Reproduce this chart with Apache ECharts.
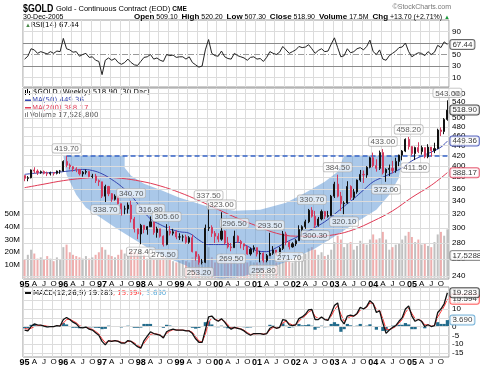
<!DOCTYPE html>
<html><head><meta charset="utf-8">
<script src="https://cdn.jsdelivr.net/npm/echarts@6/dist/echarts.min.js"></script>
<style>html,body{margin:0;padding:0;background:#fff}#c{width:480px;height:367px}</style>
</head><body><div id="c"></div>
<script>
// ---------- categories (monthly, Jan 1995 .. Dec 2005) ----------
const months = [];
for (let y = 1995; y <= 2005; y++) for (let m = 1; m <= 12; m++) months.push(y + '-' + String(m).padStart(2, '0'));

// ---------- price (monthly close / high / low, continuous contract) ----------
const firstOpen = 383;
const closes = [
 378,379,393,391,388,390,387,386,388,387,391,391,
 409,402,399,395,394,386,389,390,381,382,374,372,
 348,364,352,343,348,336,328,328,334,313,299,292,
 304,298,302,309,294,299,289,278,296,293,295,288,
 288,288,281,287,269,263,256,256,300,301,293,289,
 285,296,280,275,274,289,282,279,276,266,272,274,
 266,267,258,264,267,271,266,273,292,281,275,279,
 283,298,302,309,326,317,304,313,324,317,318,348,
 368,348,336,337,364,346,355,375,385,384,398,416,
 401,396,426,388,394,396,392,409,421,429,453,438,
 424,436,428,436,418,437,430,434,473,470,497,518.9];
const highs = [
 383,382,394,398,394,392,392,390,390,389,392,393,
 411,419.7,405,400,398,393,391,394,391,386,386,376,
 370,367,365,353,351,349,336,333,338,340.7,316,299,
 306,303,303,316.8,309,302,299,290,305.6,303,299,297,
 293,291,291,289,291,269,266,260,305,337.5,304,296,
 293,323,297,288,280,296.5,290,284,279,276,274,277,
 273,270,268,266,293.5,276,271,275,296,295,282,281,
 285,304,304,312,328,330.7,325,316,327,325,325,350,
 372,384.5,355,340,373,366,360,376,393,392,400,418,
 426,413,430,433,396,403,410,416,422,431,455,458.2,
 439,438,447,440,433,443,434,446,476,479,500,543];
const lows = [
 373,373,378,387,384,386,385,382,383,383,385,386,
 390,398,394,390,389,383,381,385,380,378,370,365,
 345,338.7,348,339,341,335,318,320,321,308,294,285,
 278.4,293,291,302,291,287,287,275.5,277,290,290,285,
 284,282,279,279,268,258,253.2,253.5,255,296,288,280,
 281,283,278,273,269.5,274,280,273,271,265,264,268,
 263,256,255.8,256,264,265,264,264,271,277,271.7,274,
 276,283,288,299,307,315,300.3,302,311,313,315,317,
 345,346,325,320.1,336,342,342,352,372,370,379,396,
 398,390,393,385,372,382,387,388,400,411,427,432,
 420,411.5,425,422,415,415,418,425,433,460,464,494];

// ---------- volume (millions, typical weekly level per month) ----------
const volumes = [
 14,18,22,19,15,16,14,17,15,13,16,14,
 24,26,20,18,17,16,15,17,15,16,18,20,
 24,22,18,17,16,18,22,19,17,21,20,19,
 22,18,15,17,14,15,14,16,18,15,13,12,
 13,14,13,12,16,17,18,14,26,24,16,12,
 14,19,15,12,13,14,11,12,11,12,13,12,
 12,13,14,13,18,14,12,12,17,15,13,12,
 14,20,17,19,23,24,22,18,20,17,18,22,
 28,33,30,24,27,28,22,25,29,27,26,30,
 34,30,31,36,30,22,24,26,27,30,33,36,
 32,28,30,26,27,25,24,28,34,36,33,38];
const lastVolume = 17.5288;

// ---------- moving averages [monthIndex, value] ----------
const ma50Pts = [[0,385],[3,387],[6,388],[9,388],[12,390],[15,392],[18,394],[21,392],[24,386],[27,376],[30,364],[33,349],[36,330],[39,313],[42,305],[45,299],[48,295],[51,293],[54,284],[57,278],[60,278],[63,278],[66,281],[69,276],[72,270],[75,269],[78,274],[81,281],[84,287],[87,294],[90,301],[93,309],[96,320],[99,332],[102,344],[105,358],[108,372],[111,380],[114,388],[117,397],[120,410],[123,419],[126,427],[129,437],[131,449.36]];
const ma200Pts = [[0,362],[6,368],[12,374],[18,378],[24,380],[30,378],[36,373],[42,365],[48,354],[54,341],[60,327],[66,314],[72,303],[78,293],[84,289],[90,289],[96,291],[102,298],[108,310],[114,325],[120,346],[126,366],[131,388.17]];

// ---------- RSI(14) ----------
const rsi = [
 42,47,60,58,52,55,53,51,55,52,56,55,
 78,60,58,54,55,47,50,52,45,46,40,38,
 15,40,44,40,43,36,33,36,42,36,32,31,
 38,45,46,50,42,44,40,38,50,48,49,45,
 46,46,42,46,36,32,28,30,58,76,52,48,
 47,56,46,43,42,52,48,46,44,40,45,46,
 42,43,38,45,55,52,50,54,64,58,52,55,
 58,64,62,63,67,60,52,57,60,55,56,68,
 79,62,46,48,60,53,55,60,62,58,64,75,
 55,50,58,42,40,48,52,56,62,63,70,55,
 46,50,53,52,48,55,50,54,66,62,72,67.44];

// ---------- MACD(12,26,9) ----------
const macdLine = [
 -2,-2.5,0,1.5,1,0.8,0.2,-0.2,0,0,0.5,0.3,
 4,5.2,4,2.5,1.5,-0.5,-0.8,-0.3,-1.5,-2,-3.5,-5,
 -8.5,-10.5,-8,-8.5,-8,-8.5,-9.5,-9.5,-8,-8.5,-10,-11.5,
 -12.4,-8,-5.5,-3,-4,-4.5,-5,-6.5,-3,-2,-1.5,-2,
 -2,-2,-2.5,-2.5,-4,-7,-9,-9,-2,5.5,6,4,
 3,4.5,2.5,0,-1.5,-0.5,-1,-1.5,-2.5,-4,-5,-4,
 -4,-4,-4.5,-4,-1,0,-1,-0.5,4,3.5,1,0.5,
 1,4.5,5.5,7,9.5,9.8,4,4,5.5,4,3.5,7.5,
 12,13.5,4,1.5,6,6.5,6,7.5,11,10,11.5,14.8,
 13,8,9,2,-3.9,-2,-0.5,0.5,3,5,10,11.7,
 6,3,4,3,0,1,0,0.5,8,10,13,19.283];
const macdSignal = [
 -1,-1.5,-1,0,0.5,0.7,0.5,0.2,0,0,0.2,0.3,
 2,4,4.2,3.2,2.2,0.5,-0.2,-0.3,-1,-1.6,-2.8,-4.2,
 -7,-9.2,-8.5,-8.3,-8.1,-8.3,-9,-9.3,-8.5,-8.4,-9.3,-10.8,
 -11.8,-9.5,-7,-4.5,-4,-4.3,-4.8,-5.8,-4,-2.6,-1.8,-1.9,
 -2,-2,-2.3,-2.4,-3.3,-5.8,-8.2,-8.8,-4.5,2.5,4.8,4.3,
 3.4,4,3,1,-0.8,-0.7,-0.8,-1.3,-2.1,-3.4,-4.5,-4.2,
 -4.1,-4,-4.3,-4.1,-2,-0.5,-0.8,-0.6,2.2,3,1.8,0.9,
 0.9,3,4.8,6.2,8.3,9.3,5.8,4.6,5,4.4,3.8,6,
 9.5,12,7,3,4.5,5.8,6,7,9.5,10,11,13.5,
 13.2,9.8,9.2,4.5,-1.5,-1.8,-1,0,2,4,8,10.5,
 7.5,4.5,4.2,3.3,1,1,0.2,0.4,5.5,8.5,11.5,15.594];
const macdHist = macdLine.map((v, i) => +(v - macdSignal[i]).toFixed(3));

// ---------- tick labels ----------
const priceTicks = [240,260,280,300,320,340,360,380,400,420,440,460,480,500,520,540,560];
const rsiTicks = [10,30,50,70,90];
const macdTicks = [-15,-10,-5,0,5,10,15,20];
const volTicks = [10,20,30,40,50];

// ---------- annotations [monthIndex, price, side] ----------
const notes = [
 [13,419.7,'top'],[25,338.7,'bottom'],[33,340.7,'top'],[36,278.4,'bottom'],[39,316.8,'top'],
 [43,275.5,'bottom'],[44,305.6,'top'],[54,253.2,'bottom'],[57,337.5,'top'],[61,323.0,'top'],
 [64,269.5,'bottom'],[65,296.5,'top'],[74,255.8,'bottom'],[76,293.5,'top'],[82,271.7,'bottom'],
 [89,330.7,'top'],[90,300.3,'bottom'],[97,384.5,'top'],[99,320.1,'bottom'],[111,433.0,'top'],
 [112,372.0,'bottom'],[119,458.2,'top'],[121,411.5,'bottom'],[131,543.0,'top']];
const resistance = 419.7;

// ---------- rounded-bottom ("cup") annotation outline [monthIndex, price] ----------
const cupOuter = [[12.2,419.7],[13.4,384.4],[15.6,350.4],[19.3,330],[23.4,316.5],[28.6,298],[33.6,284.5],[38.9,271.6],[44.1,261.7],[49.7,252.2],[54.4,241],[60.5,237.5],[66.7,239],[74.5,247.6],[82.2,258.1],[90,272.9],[97.7,293.9],[103.3,309.2],[108.6,326.9],[113.2,350.4],[116,379.2],[117.3,419.7]];
const cupInner = [[99.3,419.7],[96.8,389.9],[93.1,372.2],[86.9,353.7],[80.7,337.7],[72.9,326.9],[65.2,325.4],[55.9,333],[48.2,345.6],[42,358.7],[37.3,368.8],[33.3,382.7],[31.1,397.2],[30.5,419.7]];

// ---------- build ----------
const n = closes.length;
const opens = closes.map((c, i) => i === 0 ? firstOpen : closes[i - 1]);
const candles = closes.map((c, i) => [opens[i], c, Math.min(lows[i], opens[i], c), Math.max(highs[i], opens[i], c)]);
const UP = '#111', DOWN = '#d23a5e';
const volData = volumes.map((v, i) => ({
  value: v,
  itemStyle: { color: (i === 0 ? closes[i] >= firstOpen : closes[i] >= closes[i - 1]) ? 'rgba(150,150,150,0.6)' : 'rgba(226,120,120,0.6)' }
}));
const last = months[n - 1];

const FONT = '"Liberation Sans", Arial, sans-serif';
const LEG = '"DejaVu Sans", Verdana, sans-serif';

function xFmt(v) {
  const p = v.split('-');
  if (p[1] === '01') return '{y|' + p[0].slice(2) + '}';
  return { '04': 'A', '07': 'J', '10': 'O' }[p[1]] || '';
}
function xCfg(gi, labels) {
  return {
    type: 'category', gridIndex: gi, data: months, boundaryGap: true,
    axisLine: { show: false }, axisTick: { show: false },
    splitLine: { show: true, interval: (i) => i % 3 === 0, lineStyle: { color: '#dcdcdc', width: 1 } },
    axisLabel: {
      show: labels, interval: (i) => i % 3 === 0, formatter: xFmt, margin: 1,
      fontSize: 8, color: '#000', fontFamily: FONT,
      rich: { y: { fontSize: 9, fontWeight: 'bold', color: '#000', fontFamily: FONT } }
    }
  };
}
function gridLines(vals, color) {
  return { silent: true, symbol: ['none', 'none'], label: { show: false }, animation: false,
    lineStyle: { color: color, width: 1, type: 'solid' }, data: vals.map(v => ({ yAxis: v })) };
}
function boxLabel(xi, yi, value, text, border, z) {
  return {
    type: 'scatter', xAxisIndex: xi, yAxisIndex: yi, symbolSize: 0, z: z || 20, silent: true,
    data: [[last, value]],
    label: { show: true, position: 'right', distance: 3, formatter: text, fontSize: 8, color: '#000',
      fontFamily: FONT, backgroundColor: '#fff', borderColor: border, borderWidth: 1, borderRadius: 2, padding: [1, 2, 0, 2] }
  };
}

const chart = echarts.init(document.getElementById('c'));
const option = {
  animation: false,
  backgroundColor: '#fff',
  textStyle: { fontFamily: FONT },
  grid: [
    { left: 23, right: 31, top: 20, height: 67, show: true, borderColor: '#9a9a9a', borderWidth: 1 },
    { left: 23, right: 31, top: 88, height: 191, show: true, borderColor: '#9a9a9a', borderWidth: 1 },
    { left: 23, right: 31, top: 287, height: 72, show: true, borderColor: '#9a9a9a', borderWidth: 1 }
  ],
  xAxis: [xCfg(0, false), xCfg(1, true), xCfg(2, true)],
  yAxis: [
    { type: 'value', gridIndex: 0, position: 'right', min: -6.5, max: 110,
      axisLine: { show: false }, axisTick: { show: false }, splitLine: { show: false },
      axisLabel: { customValues: rsiTicks, fontSize: 8, color: '#000', margin: 3 } },
    { type: 'log', gridIndex: 1, position: 'right', min: 236.9, max: 575,
      axisLine: { show: false }, axisTick: { show: false, customValues: priceTicks }, splitLine: { show: false },
      axisLabel: { customValues: priceTicks, fontSize: 8, color: '#000', margin: 3, formatter: v => String(Math.round(v)) } },
    { type: 'value', gridIndex: 1, position: 'left', min: -1, max: 149,
      axisLine: { show: false }, axisTick: { show: false }, splitLine: { show: false },
      axisLabel: { customValues: volTicks, fontSize: 8, color: '#000', margin: 3, formatter: v => v + 'M' } },
    { type: 'value', gridIndex: 2, position: 'right', min: -17.4, max: 22.6,
      axisLine: { show: false }, axisTick: { show: false }, splitLine: { show: false },
      axisLabel: { customValues: macdTicks, fontSize: 8, color: '#000', margin: 3 } }
  ],
  series: [
    // RSI
    { type: 'line', xAxisIndex: 0, yAxisIndex: 0, data: rsi, symbol: 'none', z: 5,
      lineStyle: { color: '#222', width: 1 },
      markLine: { silent: true, symbol: ['none', 'none'], label: { show: false },
        data: [
          { yAxis: 10, lineStyle: { color: '#dcdcdc', width: 1, type: 'solid' } },
          { yAxis: 90, lineStyle: { color: '#dcdcdc', width: 1, type: 'solid' } },
          { yAxis: 30, lineStyle: { color: '#8a8a8a', width: 1, type: 'solid' } },
          { yAxis: 70, lineStyle: { color: '#8a8a8a', width: 1, type: 'solid' } },
          { yAxis: 50, lineStyle: { color: '#999', width: 1, type: [6, 2, 1, 2] } }
        ] } },
    boxLabel(0, 0, rsi[n - 1], '67.44', '#444'),
    // price grid lines
    { type: 'line', xAxisIndex: 1, yAxisIndex: 1, data: months.map(() => null), z: 1, symbol: 'none',
      markLine: gridLines(priceTicks, '#dcdcdc') },
    // volume
    { type: 'bar', xAxisIndex: 1, yAxisIndex: 2, data: volData, barWidth: 2, z: 2 },
    // cup annotation
    { type: 'custom', xAxisIndex: 1, yAxisIndex: 1, z: 3, silent: true, data: [[0, 300]],
      renderItem: function (params, api) {
        const pts = cupOuter.concat(cupInner).map(p => api.coord([p[0], p[1]]));
        return { type: 'polygon', shape: { points: pts }, style: { fill: 'rgba(86,145,212,0.5)', stroke: null } };
      } },
    // moving averages
    { type: 'line', xAxisIndex: 1, yAxisIndex: 1, data: ma200Pts, symbol: 'none', smooth: 0.4, z: 4,
      lineStyle: { color: '#e03a55', width: 1 } },
    { type: 'line', xAxisIndex: 1, yAxisIndex: 1, data: ma50Pts, symbol: 'none', smooth: 0.4, z: 4,
      lineStyle: { color: '#3344b0', width: 1 } },
    // price bars
    { type: 'candlestick', xAxisIndex: 1, yAxisIndex: 1, data: candles, barWidth: 1.6, z: 6,
      itemStyle: { color: UP, color0: DOWN, borderColor: UP, borderColor0: DOWN, borderWidth: 1 },
      markLine: { silent: true, symbol: ['none', 'none'], label: { show: false },
        lineStyle: { color: '#3563c8', width: 1.5, type: [5, 3] },
        data: [[{ coord: [months[13], resistance] }, { coord: [last, resistance] }]] } },
    // annotations
    { type: 'scatter', xAxisIndex: 1, yAxisIndex: 1, symbolSize: 0, z: 8, silent: true,
      data: notes.map(a => ({ value: [months[a[0]], a[1]],
        label: { position: a[2], formatter: a[1].toFixed(2) } })),
      label: { show: true, distance: 3, fontSize: 8, color: '#333', fontFamily: FONT,
        backgroundColor: 'rgba(255,255,255,0.75)', borderColor: '#a8a8a8', borderWidth: 0.6,
        borderRadius: 2, padding: [1, 2, 0, 2] } },
    boxLabel(1, 1, closes[n - 1], '518.90', '#222'),
    boxLabel(1, 1, ma50Pts[ma50Pts.length - 1][1], '449.36', '#3344b0'),
    boxLabel(1, 1, ma200Pts[ma200Pts.length - 1][1], '388.17', '#e03a55'),
    boxLabel(1, 2, lastVolume, '17.5288', '#777'),
    // MACD
    { type: 'line', xAxisIndex: 2, yAxisIndex: 3, data: months.map(() => null), z: 1, symbol: 'none',
      markLine: gridLines(macdTicks, '#dcdcdc') },
    { type: 'bar', xAxisIndex: 2, yAxisIndex: 3, data: macdHist, barWidth: '100%', z: 3,
      itemStyle: { color: '#236c8c' } },
    { type: 'line', xAxisIndex: 2, yAxisIndex: 3, data: macdSignal, symbol: 'none', z: 4,
      lineStyle: { color: '#ff3b3b', width: 1 } },
    { type: 'line', xAxisIndex: 2, yAxisIndex: 3, data: macdLine, symbol: 'none', z: 5,
      lineStyle: { color: '#111', width: 1.3 } },
    boxLabel(2, 3, macdLine[n - 1], '19.283', '#222', 22),
    boxLabel(2, 3, macdSignal[n - 1], '15.594', '#ff3b3b', 21),
    boxLabel(2, 3, macdHist[n - 1], '3.690', '#55a0d0', 20)
  ],
  graphic: [
    { type: 'text', x: 23, y: 9, scaleX: 0.8, style: { text: '$GOLD', font: 'bold 11px "Liberation Sans", Arial', fill: '#000', verticalAlign: 'middle' } },
    { type: 'text', x: 56, y: 9, style: { text: 'Gold - Continuous Contract (EOD) {b|CME}', font: '7.5px ' + FONT, fill: '#000', verticalAlign: 'middle',
        rich: { b: { fontSize: 6.5, fontWeight: 'bold', fill: '#000' } } } },
    { type: 'text', x: 23, y: 17, style: { text: '30-Dec-2005', font: '7px ' + FONT, fill: '#000', verticalAlign: 'middle' } },
    { type: 'text', x: 451, y: 7, style: { text: '\u00A9StockCharts.com', font: '7px ' + FONT, fill: '#777', align: 'right', verticalAlign: 'middle' } },
    { type: 'text', x: 450, y: 17, style: {
        text: '{b|Open} 509.10  {b|High} 520.20  {b|Low} 507.30  {b|Close} 518.90  {b|Volume} 17.5M  {b|Chg} +13.70 (+2.71%) {g|\u25B2}',
        font: '7px ' + FONT, fill: '#000', align: 'right', verticalAlign: 'middle',
        rich: { b: { fontSize: 8, fontWeight: 'bold', fill: '#000' }, g: { fontSize: 6, fill: '#1a9a3a' } } } },
    // RSI legend
    { type: 'text', x: 25, y: 25, style: { text: '\u25B2', font: '6px ' + FONT, fill: '#4a8a4a', verticalAlign: 'middle' } },
    { type: 'text', x: 31, y: 25, style: { text: 'RSI(14) 67.44', font: '7px ' + LEG, fill: '#000', verticalAlign: 'middle' } },
    // main legend
    { type: 'rect', shape: { x: 25, y: 90, width: 1, height: 5 }, style: { fill: '#000' } },
    { type: 'rect', shape: { x: 27, y: 89, width: 1, height: 5 }, style: { fill: '#000' } },
    { type: 'rect', shape: { x: 29, y: 91, width: 1, height: 4 }, style: { fill: '#000' } },
    { type: 'text', x: 33, y: 92.5, style: { text: '$GOLD (Weekly) 518.90 (30 Dec)', font: '7px ' + LEG, fill: '#000', verticalAlign: 'middle' } },
    { type: 'rect', shape: { x: 25, y: 99.5, width: 6, height: 1.5 }, style: { fill: '#3344b0' } },
    { type: 'text', x: 32, y: 100.5, style: { text: 'MA(50) 449.36', font: '7px ' + LEG, fill: '#3344b0', verticalAlign: 'middle' } },
    { type: 'rect', shape: { x: 25, y: 107, width: 6, height: 1.5 }, style: { fill: '#e03a55' } },
    { type: 'text', x: 32, y: 108, style: { text: 'MA(200) 388.17', font: '7px ' + LEG, fill: '#e03a55', verticalAlign: 'middle' } },
    { type: 'rect', shape: { x: 25, y: 113, width: 1, height: 4 }, style: { fill: '#888' } },
    { type: 'rect', shape: { x: 27, y: 112, width: 1, height: 5 }, style: { fill: '#888' } },
    { type: 'text', x: 30, y: 115.5, style: { text: 'Volume 17,528,800', font: '7px ' + LEG, fill: '#555', verticalAlign: 'middle' } },
    // MACD legend
    { type: 'rect', shape: { x: 25, y: 292, width: 6, height: 2 }, style: { fill: '#111' } },
    { type: 'text', x: 33, y: 293, style: { text: 'MACD(12,26,9) 19.283{r|, 15.594}{c|, 3.690}', font: '7px ' + LEG, fill: '#000', verticalAlign: 'middle',
        rich: { r: { fill: '#ff3b3b', font: '7px ' + LEG }, c: { fill: '#5aaad8', font: '7px ' + LEG } } } }
  ]
};
chart.setOption(option);
</script>
</body></html>
